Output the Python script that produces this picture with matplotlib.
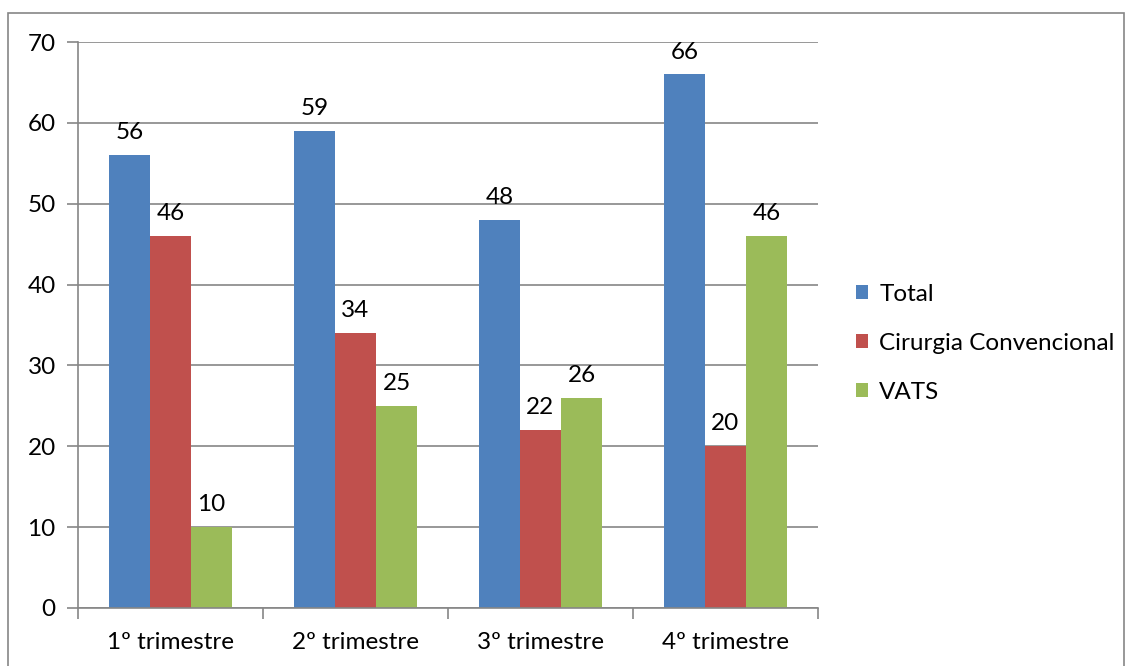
import matplotlib.pyplot as plt
from matplotlib.patches import Rectangle
import numpy as np

categories = ['1º trimestre', '2º trimestre', '3º trimestre', '4º trimestre']
series_names = ['Total', 'Cirurgia Convencional', 'VATS']
total = [56, 59, 48, 66]
convencional = [46, 34, 22, 20]
vats = [10, 25, 26, 46]
colors = ['#4F81BD', '#C0504D', '#9BBB59']

plt.rcParams['font.family'] = ['Lato', 'DejaVu Sans']
fs = 17.5

fig = plt.figure(figsize=(11.32, 6.66), dpi=100)
ax = fig.add_axes([0.0689, 0.0871, 0.6537, 0.8498])

# outer frame of the chart area
fig.patches.append(Rectangle((8 / 1132, -0.1), 1116 / 1132, 1.1 - 13 / 666,
                             transform=fig.transFigure, fill=False,
                             edgecolor='#868686', linewidth=1.2))

x = np.arange(len(categories))
w = 0.222
for i, (vals, name, c) in enumerate(zip([total, convencional, vats], series_names, colors)):
    bars = ax.bar(x + (i - 1) * w, vals, w, color=c, label=name)
    for b, v in zip(bars, vals):
        ax.annotate(str(v), (b.get_x() + b.get_width() / 2, v), xytext=(0, 8.5),
                    textcoords='offset points', ha='center', va='bottom', fontsize=fs)

ax.set_xlim(-0.5, 3.5)
ax.set_ylim(0, 70)
ax.set_yticks(range(0, 71, 10))
ax.yaxis.grid(True, color='#868686', linewidth=1.2)
ax.set_axisbelow(True)
ax.set_xticks(x)
ax.set_xticklabels(categories)
ax.set_xticks(np.arange(-0.5, 4, 1), minor=True)
ax.tick_params(axis='x', which='major', length=0, pad=17, labelsize=fs)
ax.tick_params(axis='x', which='minor', length=8, color='#868686', width=1.2)
ax.tick_params(axis='y', length=8, color='#868686', width=1.2, pad=8, labelsize=fs)
for s in ['top', 'right']:
    ax.spines[s].set_visible(False)
for s in ['left', 'bottom']:
    ax.spines[s].set_color('#868686')
    ax.spines[s].set_linewidth(1.2)

ax.legend(loc='center left', bbox_to_anchor=(1.022, 0.468), frameon=False,
          fontsize=fs, handlelength=0.5, handleheight=0.5, handletextpad=0.45,
          labelspacing=1.15)

fig.savefig('out.png', dpi=100)
